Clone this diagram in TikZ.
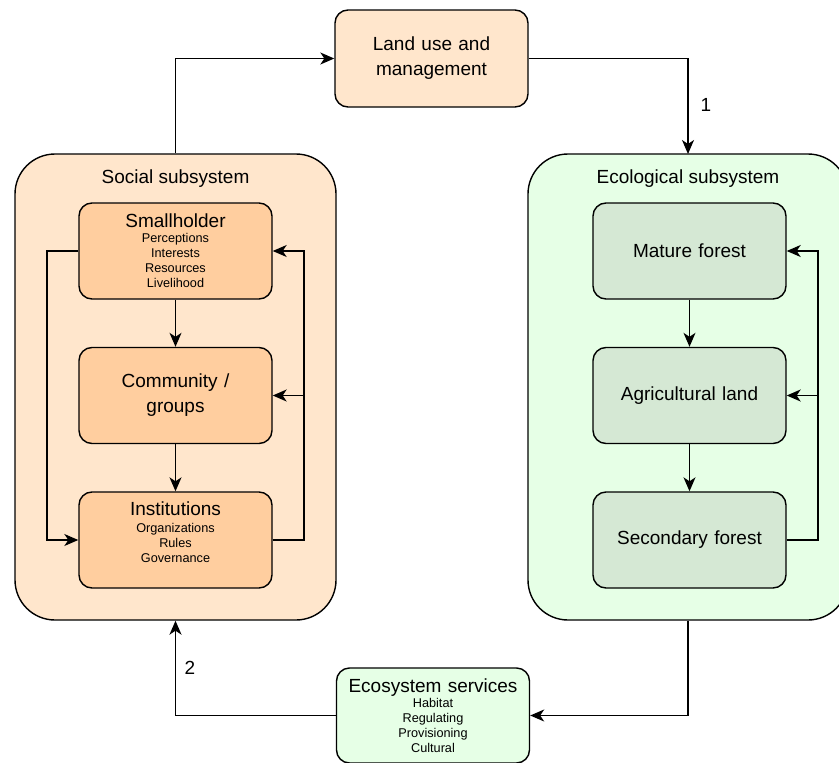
\documentclass[tikz,border=0pt]{standalone}
\usepackage{fontspec}
\setmainfont{Liberation Sans}
\usetikzlibrary{arrows.meta}
\definecolor{orangeL}{HTML}{FFE6CC}
\definecolor{orangeM}{HTML}{FFCE9F}
\definecolor{greenL}{HTML}{E6FFE6}
\definecolor{greenM}{HTML}{D5E8D4}
\newcommand{\fsBig}{\fontsize{19}{25}\selectfont}
\newcommand{\fsSmall}{\fontsize{12.7}{15}\selectfont}
\begin{document}
\begin{tikzpicture}[x=1pt,y=-1pt,
  outerbox/.style={draw=black, line width=1.4pt, rounded corners=40pt, minimum height=466pt, inner sep=0pt},
  innerbox/.style={draw=black, line width=1.4pt, rounded corners=13pt, minimum width=193pt, minimum height=96pt, text width=188pt, align=center, inner sep=0pt, font=\fsBig},
  titletext/.style={font=\fsBig, inner sep=0pt},
  arr/.style={line width=1.4pt, -{Stealth[length=14pt,width=12pt,inset=4pt]}}
]
\useasboundingbox (0,0) rectangle (839,763);

% outer subsystems
\node[outerbox, fill=orangeL, minimum width=321pt] (social) at (175.5,387) {};
\node[outerbox, fill=greenL, minimum width=320pt] (eco) at (688,387) {};
\node[titletext] (socialtitle) at (175.5,179) {Social subsystem};
\node[titletext] (ecotitle) at (688,179) {Ecological subsystem};

% top and bottom boxes
\node[innerbox, fill=orangeL, minimum height=97pt] (landuse) at (431.5,58.5) {Land use and\par management\par};
\node[innerbox, fill=greenL, minimum height=95pt] (services) at (433,715.5)
  {\fsBig Ecosystem services\par\fsSmall Habitat\par Regulating\par Provisioning\par Cultural\par};

% social inner boxes
\node[innerbox, fill=orangeM] (smallholder) at (175.5,251)
  {\fsBig Smallholder\par\fsSmall Perceptions\par Interests\par Resources\par Livelihood\par};
\node[innerbox, fill=orangeM] (community) at (175.5,395.5) {Community /\par groups\par};
\node[innerbox, fill=orangeM] (institutions) at (175.5,540)
  {\fsBig Institutions\par\vspace{2pt}\fsSmall Organizations\par Rules\par Governance\par\mbox{}\par};

% ecological inner boxes
\node[innerbox, fill=greenM] (mature) at (689.5,251) {Mature forest};
\node[innerbox, fill=greenM] (agri) at (689.5,395.5) {Agricultural land};
\node[innerbox, fill=greenM] (secondary) at (689.5,540) {Secondary forest};

% labels
\node[titletext] (lab1) at (706,105) {1};
\node[titletext] (lab2) at (190,668) {2};

% helper coordinates
\coordinate (ecotop) at (688,154);
\coordinate (sL1) at (47,251);
\coordinate (sL3) at (47,540);
\coordinate (sR1) at (304,251);
\coordinate (sR2) at (304,395.5);
\coordinate (sR3) at (304,540);
\coordinate (eR1) at (818,251);
\coordinate (eR2) at (818,395.5);
\coordinate (eR3) at (818,540);

% outer loop
\draw[arr] (social.north) |- (landuse.west);
\draw[arr] (landuse.east) -| (ecotop);
\draw[arr] (eco.south) |- (services.east);
\draw[arr] (services.west) -| (social.south);

% social internal
\draw[arr] (smallholder.south) -- (community.north);
\draw[arr] (community.south) -- (institutions.north);
\draw[arr] (smallholder.west) -- (sL1) -- (sL3) -- (institutions.west);
\draw[arr] (institutions.east) -- (sR3) -- (sR1) -- (smallholder.east);
\draw[arr] (sR2) -- (community.east);

% ecological internal
\draw[arr] (mature.south) -- (agri.north);
\draw[arr] (agri.south) -- (secondary.north);
\draw[arr] (secondary.east) -- (eR3) -- (eR1) -- (mature.east);
\draw[arr] (eR2) -- (agri.east);
\end{tikzpicture}
\end{document}
